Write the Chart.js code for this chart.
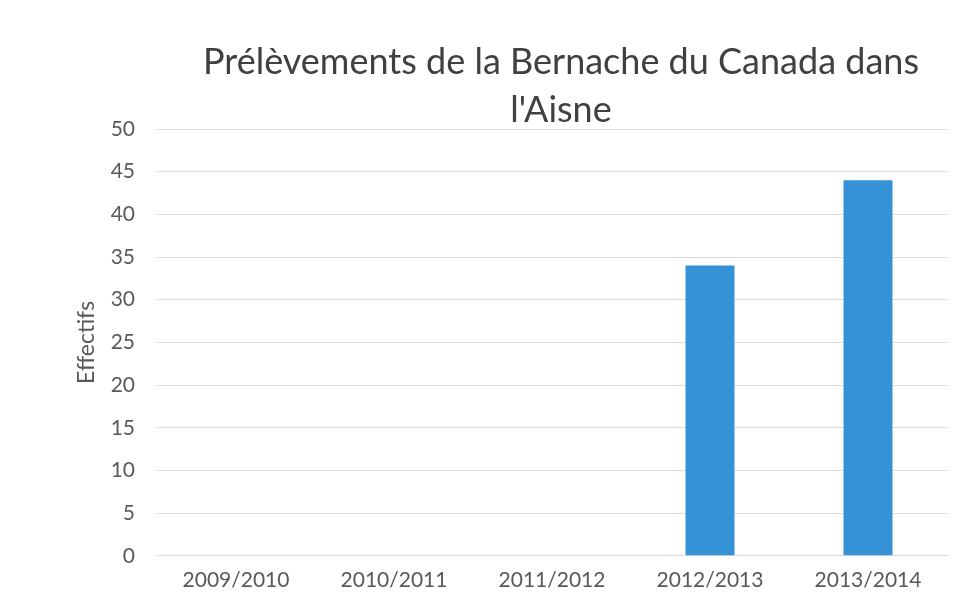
<!DOCTYPE html>
<html>
<head>
<meta charset="utf-8">
<script src="https://cdn.jsdelivr.net/npm/chart.js@4"></script>
<style>
  html, body { margin: 0; padding: 0; background: #fff; }
  #wrap { width: 963px; height: 612px; }
</style>
</head>
<body>
<div id="wrap"><canvas id="chart" width="963" height="612"></canvas></div>
<script>
const seasons = ['2009/2010', '2010/2011', '2011/2012', '2012/2013', '2013/2014']
const prelevements = [0, 0, 0, 34, 44]
const titleLines = ['Prélèvements de la Bernache du Canada dans', "l'Aisne"]

const textGrey = '#595959'
const gridGrey = '#dcdcdc'

// Excel puts the title a little right of the canvas centre, so draw it ourselves
const titlePlugin = {
  id: 'excelTitle',
  afterDraw (chart) {
    const { ctx, chartArea } = chart
    const cx = (chartArea.left + chartArea.right) / 2 + 9
    ctx.save()
    ctx.fillStyle = '#404040'
    ctx.font = '36px Lato'
    ctx.textAlign = 'center'
    ctx.textBaseline = 'middle'
    titleLines.forEach((line, i) => {
      ctx.fillText(line, cx, 62 + i * 48)
    })
    ctx.restore()
  }
}

const config = {
  type: 'bar',
  data: {
    labels: seasons,
    datasets: [{
      label: 'Effectifs',
      data: prelevements,
      backgroundColor: '#3592d6',
      borderWidth: 0,
      categoryPercentage: 1,
      barPercentage: 0.31
    }]
  },
  options: {
    responsive: false,
    animation: false,
    layout: {
      padding: { top: 129, left: 0, right: 16, bottom: 7 }
    },
    scales: {
      x: {
        grid: { display: false, drawTicks: false },
        border: { display: true, color: gridGrey, width: 1 },
        ticks: {
          color: textGrey,
          padding: 12,
          font: { family: 'Lato', size: 21 }
        }
      },
      y: {
        min: 0,
        max: 50,
        afterFit (scale) { scale.width = 157 },
        grid: { color: gridGrey, drawTicks: false },
        border: { display: false },
        ticks: {
          stepSize: 5,
          color: textGrey,
          padding: 22,
          font: { family: 'Lato', size: 21 }
        },
        title: {
          display: true,
          text: 'Effectifs',
          color: textGrey,
          padding: { top: 73, bottom: 0 },
          font: { family: 'Lato', size: 23 }
        }
      }
    },
    plugins: {
      legend: { display: false },
      tooltip: { enabled: false },
      title: { display: false }
    }
  },
  plugins: [titlePlugin]
}

const ctx = document.getElementById('chart').getContext('2d')
new Chart(ctx, config) // eslint-disable-line
</script>
</body>
</html>
